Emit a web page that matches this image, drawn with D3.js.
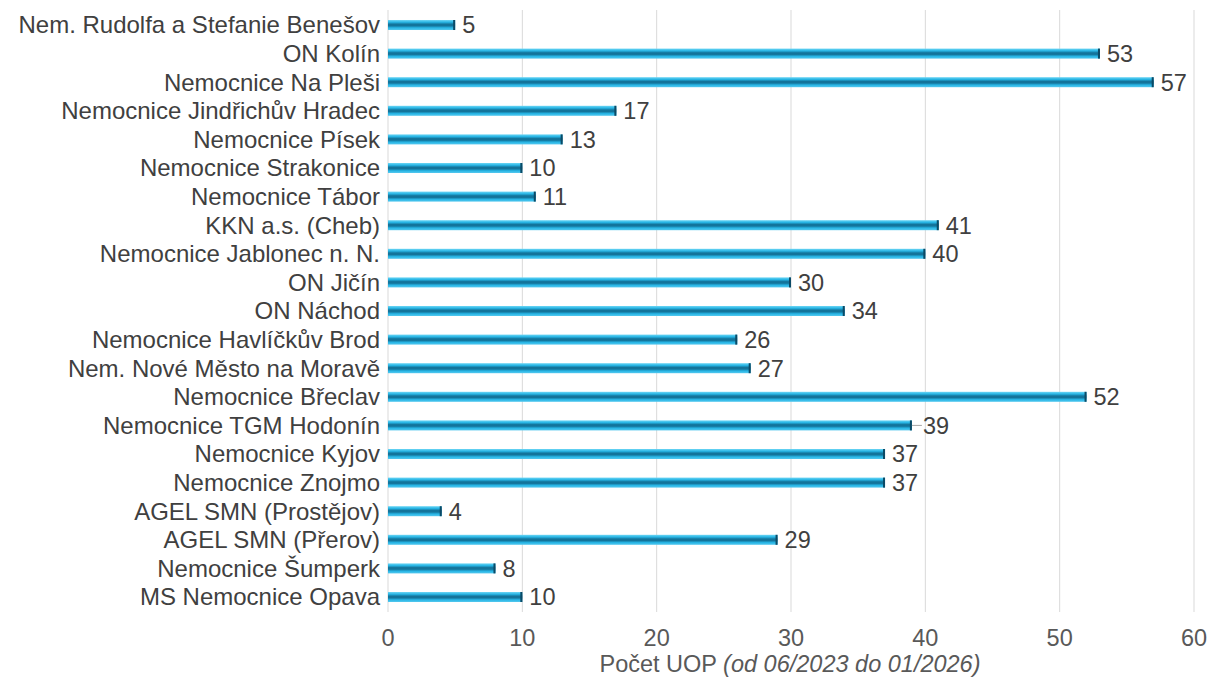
<!DOCTYPE html>
<html>
<head>
<meta charset="utf-8">
<script src="https://cdn.jsdelivr.net/npm/d3@7"></script>
<style>
  body { margin: 0; background: #fff; font-family: "Liberation Sans", Arial, sans-serif; }
</style>
</head>
<body>
<div id="chart"></div>
<script>
// data
const hospitals = [
  "Nem. Rudolfa a Stefanie Benešov", "ON Kolín", "Nemocnice Na Pleši",
  "Nemocnice Jindřichův Hradec", "Nemocnice Písek", "Nemocnice Strakonice",
  "Nemocnice Tábor", "KKN a.s. (Cheb)", "Nemocnice Jablonec n. N.", "ON Jičín",
  "ON Náchod", "Nemocnice Havlíčkův Brod", "Nem. Nové Město na Moravě",
  "Nemocnice Břeclav", "Nemocnice TGM Hodonín", "Nemocnice Kyjov",
  "Nemocnice Znojmo", "AGEL SMN (Prostějov)", "AGEL SMN (Přerov)",
  "Nemocnice Šumperk", "MS Nemocnice Opava"
];
const counts = [5, 53, 57, 17, 13, 10, 11, 41, 40, 30, 34, 26, 27, 52, 39, 37, 37, 4, 29, 8, 10];
const xTicks = [0, 10, 20, 30, 40, 50, 60];

const width = 1210, height = 679;
const svg = d3.select("#chart").append("svg")
  .attr("width", width).attr("height", height);

// bar gradient (cylinder look)
const grad = svg.append("defs").append("linearGradient")
  .attr("id", "barGrad").attr("x1", 0).attr("y1", 0).attr("x2", 0).attr("y2", 1);
[[0, "#6fd6f4"], [0.22, "#27b6e6"], [0.42, "#13749b"], [0.58, "#13749b"], [0.78, "#27b6e6"], [1, "#56c8ee"]]
  .forEach(s => grad.append("stop").attr("offset", s[0]).attr("stop-color", s[1]));

const x = d3.scaleLinear().domain([0, 60]).range([388, 1194]);
const y = d3.scaleBand()
  .domain(hospitals)
  .range([10.7, 611.3])
  .paddingInner(0.65)
  .paddingOuter(0.325);

// gridlines
svg.append("g").selectAll("line")
  .data(xTicks)
  .join("line")
  .attr("x1", d => x(d)).attr("x2", d => x(d))
  .attr("y1", 10).attr("y2", 612)
  .attr("stroke", "#d9d9d9").attr("stroke-width", 1);

// x axis labels
svg.append("g").selectAll("text")
  .data(xTicks)
  .join("text")
  .attr("x", d => x(d)).attr("y", 646)
  .attr("text-anchor", "middle")
  .attr("font-size", 23.5)
  .attr("fill", "#595959")
  .text(d => d);

// axis title
const title = svg.append("text")
  .attr("x", 790).attr("y", 672)
  .attr("text-anchor", "middle")
  .attr("font-size", 23.5)
  .attr("fill", "#595959");
title.append("tspan").text("Počet UOP ");
title.append("tspan").attr("font-style", "italic").text("(od 06/2023 do 01/2026)");

// category labels
svg.append("g").selectAll("text")
  .data(hospitals)
  .join("text")
  .attr("x", 380)
  .attr("y", d => y(d) + y.bandwidth() / 2)
  .attr("dy", "0.35em")
  .attr("text-anchor", "end")
  .attr("font-size", 24)
  .attr("fill", "#404040")
  .text(d => d);

const rows = hospitals.map((h, i) => ({ h, v: counts[i] }));

// bars
svg.append("g").selectAll("rect")
  .data(rows)
  .join("rect")
  .attr("x", x(0))
  .attr("y", d => y(d.h))
  .attr("width", d => x(d.v) - x(0))
  .attr("height", y.bandwidth())
  .attr("fill", "url(#barGrad)");

// dark end caps
svg.append("g").selectAll("rect")
  .data(rows)
  .join("rect")
  .attr("x", d => x(d.v) - 2)
  .attr("y", d => y(d.h))
  .attr("width", 2)
  .attr("height", y.bandwidth())
  .attr("fill", "#0b4a66");

// value labels
svg.append("g").selectAll("text")
  .data(rows)
  .join("text")
  .attr("x", d => x(d.v) + (d.h === "Nemocnice TGM Hodonín" ? 11 : 7))
  .attr("y", d => y(d.h) + y.bandwidth() / 2)
  .attr("dy", "0.36em")
  .attr("font-size", 23.5)
  .attr("fill", "#404040")
  .text(d => d.v);

// small leader line for the shifted label
const hod = rows.find(d => d.h === "Nemocnice TGM Hodonín");
svg.append("line")
  .attr("x1", x(hod.v)).attr("x2", x(hod.v) + 10)
  .attr("y1", y(hod.h) + y.bandwidth() / 2).attr("y2", y(hod.h) + y.bandwidth() / 2)
  .attr("stroke", "#a6a6a6").attr("stroke-width", 1);
</script>
</body>
</html>
